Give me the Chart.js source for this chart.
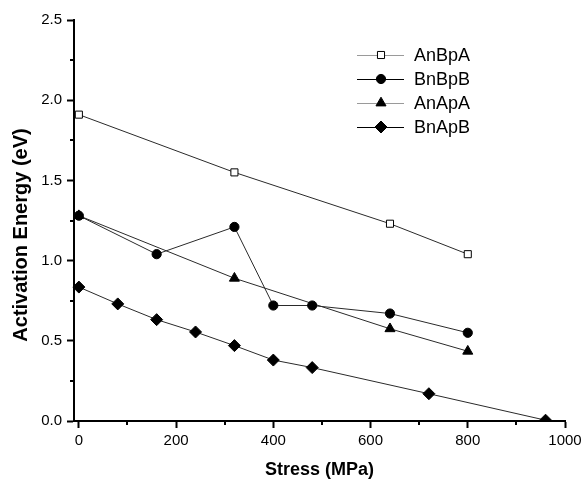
<!DOCTYPE html>
<html>
<head>
<meta charset="utf-8">
<script src="https://cdn.jsdelivr.net/npm/chart.js@4.4.1/dist/chart.umd.min.js"></script>
<style>
  html, body { margin: 0; padding: 0; background: #fff; }
  #wrap { width: 587px; height: 480px; position: relative; }
</style>
</head>
<body>
<div id="wrap"><canvas id="c" width="587" height="480"></canvas></div>
<script>
// ---- data ----
const seriesNames = ['AnBpA', 'BnBpB', 'AnApA', 'BnApB'];
const stressAnBpA = [0, 320, 640, 800];
const energyAnBpA = [1.91, 1.55, 1.23, 1.04];
const stressBnBpB = [0, 160, 320, 400, 480, 640, 800];
const energyBnBpB = [1.28, 1.04, 1.21, 0.72, 0.72, 0.67, 0.55];
const stressAnApA = [0, 320, 640, 800];
const energyAnApA = [1.28, 0.89, 0.575, 0.435];
const stressBnApB = [0, 80, 160, 240, 320, 400, 480, 720, 960];
const energyBnApB = [0.835, 0.73, 0.632, 0.555, 0.47, 0.38, 0.333, 0.17, 0.005];

const xMajorTicks = [0, 200, 400, 600, 800, 1000];
const xMinorTicks = [100, 300, 500, 700, 900];
const yMajorTicks = [0.0, 0.5, 1.0, 1.5, 2.0, 2.5];
const yMinorTicks = [0.25, 0.75, 1.25, 1.75, 2.25];

const xTitle = 'Stress (MPa)';
const yTitle = 'Activation Energy (eV)';

const FONT = '"Liberation Sans", Arial, Helvetica, sans-serif';

function pts(xs, ys) { return xs.map((x, i) => ({ x: x, y: ys[i] })); }

const styles = [
  { pointStyle: 'rect', radius: 5, fill: '#ffffff', legendLine: '#9a9a9a' },
  { pointStyle: 'circle', radius: 4.6, fill: '#000000', legendLine: '#000000' },
  { pointStyle: 'triangle', radius: 5.8, fill: '#000000', legendLine: '#9a9a9a' },
  { pointStyle: 'rectRot', radius: 6, fill: '#000000', legendLine: '#000000' }
];

const dataArrays = [
  pts(stressAnBpA, energyAnBpA),
  pts(stressBnBpB, energyBnBpB),
  pts(stressAnApA, energyAnApA),
  pts(stressBnApB, energyBnApB)
];

const datasets = dataArrays.map((d, i) => ({
  label: seriesNames[i],
  data: d,
  borderColor: '#2a2a2a',
  borderWidth: 1,
  pointStyle: styles[i].pointStyle,
  pointRadius: styles[i].radius,
  pointHoverRadius: styles[i].radius,
  pointBackgroundColor: styles[i].fill,
  pointBorderColor: '#000000',
  pointBorderWidth: 1,
  tension: 0,
  fill: false,
  clip: { left: 12, top: 12, right: 12, bottom: 0 }
}));

const minorTicksPlugin = {
  id: 'minorTicks',
  afterDraw(chart) {
    const ctx = chart.ctx;
    const xs = chart.scales.x, ys = chart.scales.y;
    const area = chart.chartArea;
    ctx.save();
    ctx.strokeStyle = '#000';
    ctx.lineWidth = 2;
    ctx.beginPath();
    xMinorTicks.forEach(v => {
      const px = Math.round(xs.getPixelForValue(v));
      ctx.moveTo(px, area.bottom);
      ctx.lineTo(px, area.bottom + 4);
    });
    yMinorTicks.forEach(v => {
      const py = Math.round(ys.getPixelForValue(v));
      ctx.moveTo(area.left, py);
      ctx.lineTo(area.left - 4, py);
    });
    ctx.stroke();
    // y axis title (placed slightly below the axis centre, as in the reference)
    ctx.fillStyle = '#000';
    ctx.font = 'bold 20px ' + FONT;
    ctx.textAlign = 'center';
    ctx.textBaseline = 'middle';
    ctx.translate(21, 235);
    ctx.rotate(-Math.PI / 2);
    ctx.fillText(yTitle, 0, 0);
    ctx.restore();
  }
};

const legendPlugin = {
  id: 'customLegend',
  afterDraw(chart) {
    const ctx = chart.ctx;
    ctx.save();
    const x0 = 357, x1 = 404, xm = 381, xt = 414;
    const rows = [55, 79, 103, 127];
    chart.data.datasets.forEach((ds, i) => {
      const y = rows[i];
      ctx.strokeStyle = styles[i].legendLine;
      ctx.lineWidth = 1;
      ctx.beginPath();
      ctx.moveTo(x0, y + 0.5);
      ctx.lineTo(x1, y + 0.5);
      ctx.stroke();
      ctx.fillStyle = styles[i].fill;
      ctx.strokeStyle = '#000';
      Chart.helpers.drawPoint(ctx, { pointStyle: styles[i].pointStyle, radius: styles[i].radius, borderWidth: 1, rotation: 0 }, xm, y);
      ctx.fillStyle = '#000';
      ctx.font = '18px ' + FONT;
      ctx.textAlign = 'left';
      ctx.textBaseline = 'middle';
      ctx.fillText(ds.label, xt, y + 1);
    });
    ctx.restore();
  }
};

new Chart(document.getElementById('c'), {
  type: 'line',
  data: { datasets: datasets },
  plugins: [minorTicksPlugin, legendPlugin],
  options: {
    responsive: false,
    animation: false,
    devicePixelRatio: 1,
    layout: { padding: { left: 0, right: 22, top: 20, bottom: 0 } },
    plugins: { legend: { display: false }, tooltip: { enabled: false } },
    scales: {
      x: {
        type: 'linear',
        min: -10,
        max: 1000,
        afterBuildTicks: s => { s.ticks = xMajorTicks.map(v => ({ value: v })); },
        afterFit: s => { s.height = 59; },
        grid: { display: true, drawOnChartArea: false, drawTicks: true, tickLength: 7, tickWidth: 2, tickColor: '#000' },
        border: { display: true, color: '#000', width: 2 },
        ticks: { color: '#000', font: { family: FONT, size: 15 }, padding: 4, maxRotation: 0, autoSkip: false, callback: v => String(v) },
        title: { display: true, text: xTitle, color: '#000', font: { family: FONT, size: 18, weight: 'bold' }, padding: { top: 0, bottom: -1 } }
      },
      y: {
        type: 'linear',
        min: 0,
        max: 2.5,
        afterBuildTicks: s => { s.ticks = yMajorTicks.map(v => ({ value: v })); },
        afterFit: s => { s.width = 74; },
        grid: { display: true, drawOnChartArea: false, drawTicks: true, tickLength: 7, tickWidth: 2, tickColor: '#000' },
        border: { display: true, color: '#000', width: 2 },
        ticks: { color: '#000', font: { family: FONT, size: 15 }, padding: 5, autoSkip: false, callback: v => Number(v).toFixed(1) },
        title: { display: false, text: yTitle }
      }
    }
  }
});
</script>
</body>
</html>
